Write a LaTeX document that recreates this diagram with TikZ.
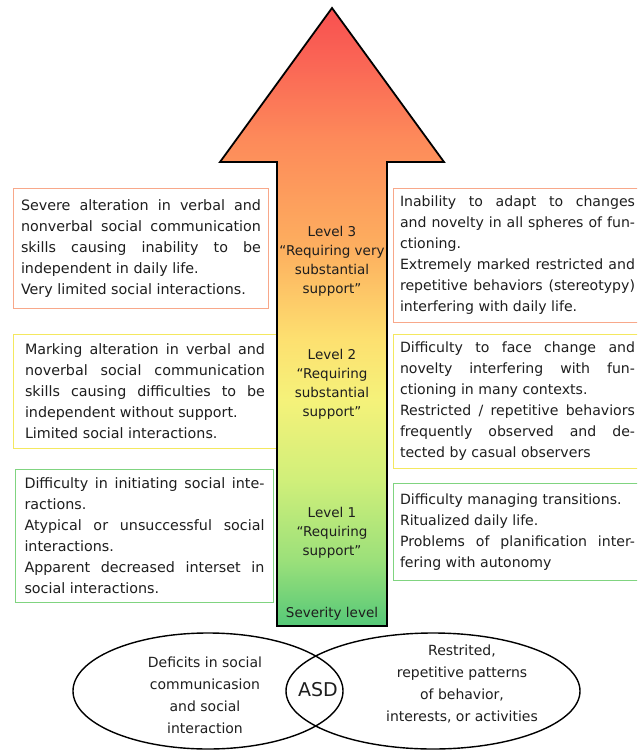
\documentclass[tikz,border=0pt]{standalone}
\usepackage{fontspec}
\setmainfont{DejaVu Sans}
\usetikzlibrary{positioning}

\definecolor{boxsalmon}{RGB}{248,168,138}
\definecolor{boxyellow}{RGB}{244,232,96}
\definecolor{boxgreen}{RGB}{128,212,128}
\definecolor{inktext}{RGB}{30,30,30}

\definecolor{sevA}{RGB}{85,200,120}
\definecolor{sevB}{RGB}{155,224,122}
\definecolor{sevC}{RGB}{208,239,122}
\definecolor{sevD}{RGB}{245,242,122}
\definecolor{sevE}{RGB}{253,224,112}
\definecolor{sevF}{RGB}{253,175,95}
\definecolor{sevG}{RGB}{253,138,90}
\definecolor{sevH}{RGB}{250,100,85}
\definecolor{sevI}{RGB}{248,80,80}

\pgfdeclareverticalshading{severityshade}{100bp}{color(0bp)=(sevA); color(25bp)=(sevA);
  color(30.3bp)=(sevB); color(36.8bp)=(sevC); color(43.3bp)=(sevD); color(48.2bp)=(sevE);
  color(55.5bp)=(sevF); color(64.4bp)=(sevG); color(70.9bp)=(sevH); color(75bp)=(sevI);
  color(100bp)=(sevI)}

\tikzset{
  infobox/.style={draw=#1, line width=1pt, fill=white, text=inktext, text width=240pt,
    align=justify, inner xsep=7pt, inner ysep=4pt, anchor=north west,
    font=\fontsize{14.3}{21}\selectfont},
  rightbox/.style={infobox=#1, text width=235pt, inner xsep=5pt, minimum width=248pt,
    font=\fontsize{14.1}{21}\selectfont},
  leveltext/.style={align=center, text=inktext, font=\fontsize{13.5}{19}\selectfont},
  venntext/.style={align=center, text=inktext, font=\fontsize{14}{22}\selectfont},
  vennline/.style={line width=1.4pt, black}
}

\tolerance=10000
\hbadness=10000
\hfuzz=3pt
\hyphenpenalty=10000
\exhyphenpenalty=10000

\begin{document}
\begin{tikzpicture}[x=1pt,y=-1pt]
  \useasboundingbox (0,0) rectangle (637,751);
  \clip (0,0) rectangle (637,751);

  % communication side
  \node[infobox=boxsalmon, minimum width=255pt, minimum height=120pt] (comm3) at (13,188)
    {Severe alteration in verbal and\linebreak nonverbal social communication\linebreak skills causing inability to be\linebreak independent in daily life.\\ Very limited social interactions.};
  \node[infobox=boxyellow, minimum width=263pt, minimum height=114pt] (comm2) at (13,334)
    {Marking alteration in verbal and\linebreak noverbal social communication\linebreak skills causing difficulties to be\linebreak independent without support.\\ Limited social interactions.};
  \node[infobox=boxgreen, minimum width=258pt, minimum height=133pt] (comm1) at (15,469)
    {Difficulty in initiating social inte-\linebreak ractions.\\ Atypical or unsuccessful social\linebreak interactions.\\ Apparent decreased interset in\linebreak social interactions.};

  % behaviour side
  \node[rightbox=boxsalmon, minimum height=134pt] (behav3) at (393,188)
    {Inability to adapt to changes\linebreak and novelty in all spheres of fun-\linebreak ctioning.\\ Extremely marked restricted and\linebreak repetitive behaviors (stereotypy)\linebreak interfering with daily life.};
  \node[rightbox=boxyellow, minimum height=134pt] (behav2) at (393,334)
    {Difficulty to face change and\linebreak novelty interfering with fun-\linebreak ctioning in many contexts.\\ Restricted / repetitive behaviors\linebreak frequently observed and de-\linebreak tected by casual observers};
  \node[rightbox=boxgreen, minimum height=97pt] (behav1) at (393,483)
    {Difficulty managing transitions.\\ Ritualized daily life.\\ Problems of planification inter-\linebreak fering with autonomy};

  % severity arrow
  \draw[line width=1.8pt, line join=miter, shading=severityshade]
    (277,626) -- (277,162) -- (220,162) -- (332,8) -- (444,162) -- (387,162) -- (387,626) -- cycle;

  \node[leveltext] (lvl3) at (332,261) {Level 3\\ “Requiring very\\ substantial\\ support”};
  \node[leveltext] (lvl2) at (332,384) {Level 2\\ “Requiring\\ substantial\\ support”};
  \node[leveltext] (lvl1) at (332,533) {Level 1\\ “Requiring\\ support”};
  \node[leveltext] (sev) at (332,614) {Severity level};

  % venn
  \draw[vennline] (208,691) ellipse [x radius=135pt, y radius=58pt];
  \draw[vennline] (433,691) ellipse [x radius=147pt, y radius=58pt];
  \node[venntext] (deficits) at (205,695) {Deficits in social\\ communicasion\\ and social\\ interaction};
  \node[venntext] (patterns) at (462,684) {Restrited,\\ repetitive patterns\\ of behavior,\\ interests, or activities};
  \node[text=inktext, font=\fontsize{19}{22}\selectfont] (asd) at (318,690) {ASD};
\end{tikzpicture}
\end{document}
